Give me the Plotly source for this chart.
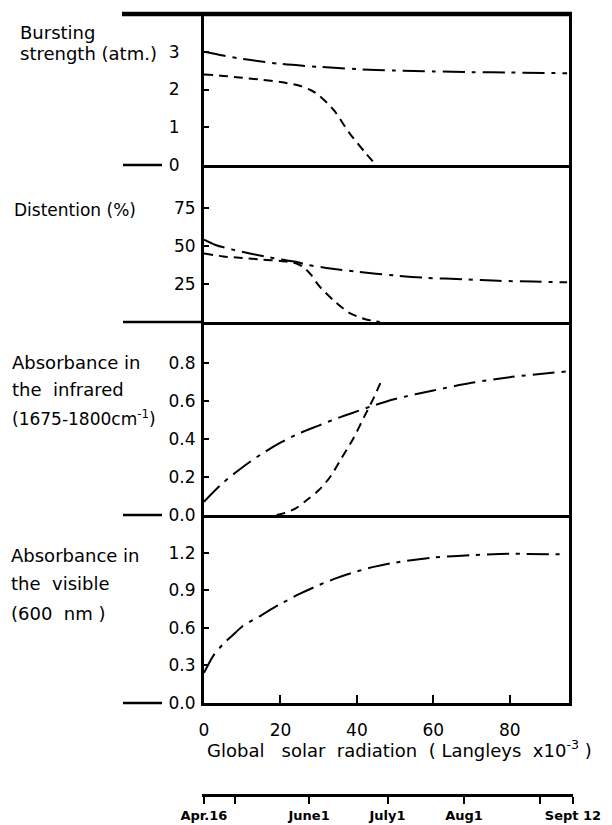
import plotly.graph_objects as go

# ---------------- data ----------------
# Global solar radiation (Langleys x 10^-3)
x_burst_dd = [0, 5, 10, 20, 30, 40, 50, 60, 70, 80, 95]
burst_dd = [3.0, 2.9, 2.81, 2.68, 2.6, 2.54, 2.5, 2.48, 2.46, 2.45, 2.43]
x_burst_d = [0, 5, 10, 15, 20, 25, 28, 30, 34, 38, 42, 45]
burst_d = [2.4, 2.36, 2.31, 2.26, 2.2, 2.1, 1.98, 1.85, 1.45, 0.85, 0.35, 0.0]

x_dist_dd = [0, 3, 7.5, 12, 16, 20, 24, 27, 32, 40, 50, 58, 68, 77, 86, 95]
dist_dd = [54, 50.5, 47.5, 45, 43, 41, 39.5, 37.5, 35.5, 33, 30.5, 29, 28, 27, 26.5, 26]
x_dist_d = [0, 5, 10, 15, 20, 24, 26, 28, 30, 34, 38, 42, 46]
dist_d = [45, 43, 42, 41, 40, 38.5, 36, 31, 24, 14, 6, 2, 0]

x_ir_dd = [0, 5, 10, 15, 20, 25, 30, 35, 40, 45, 50, 60, 70, 80, 95]
ir_dd = [0.07, 0.17, 0.25, 0.32, 0.38, 0.43, 0.47, 0.51, 0.545, 0.58, 0.61, 0.655, 0.695, 0.725, 0.755]
x_ir_d = [19, 21, 24, 27, 30, 33, 36, 39, 42, 44.5, 46.5]
ir_d = [0.0, 0.01, 0.035, 0.08, 0.13, 0.2, 0.3, 0.4, 0.52, 0.62, 0.71]

x_vis = [0, 2.5, 5, 7.5, 10, 15, 20, 25, 30, 35, 40, 45, 50, 60, 70, 80, 95]
vis = [0.24, 0.38, 0.47, 0.54, 0.61, 0.70, 0.79, 0.87, 0.94, 1.0, 1.05, 1.09, 1.12, 1.16, 1.18, 1.19, 1.185]

x_ticks = [0, 20, 40, 60, 80]
burst_ticks = [0, 1, 2, 3]
dist_ticks = [25, 50, 75]
ir_ticks = [0.0, 0.2, 0.4, 0.6, 0.8]
vis_ticks = [0.0, 0.3, 0.6, 0.9, 1.2]

# calendar dates placed on the solar-radiation scale
date_pos = [0, 8, 27.5, 48, 68, 88, 96.5]
date_labels = ["Apr.16", "", "June1", "July1", "Aug1", "", "Sept 12"]

# ---------------- figure ----------------
W, H = 612, 825
FONT = "DejaVu Sans"


def px_x(p):
    return p / W


def px_y(p):
    return 1 - p / H


DASHDOT = "22px,7px,4px,7px"
DASHED = "9px,6px"

fig = go.Figure()


def add(x, y, panel, dash):
    fig.add_trace(go.Scatter(
        x=x, y=y, mode="lines",
        line=dict(color="black", width=2, dash=dash, shape="spline", smoothing=0.8),
        xaxis="x" if panel == 1 else f"x{panel}", yaxis="y" if panel == 1 else f"y{panel}",
        showlegend=False, hoverinfo="skip"))


add(x_burst_dd, burst_dd, 1, DASHDOT)
add(x_burst_d, burst_d, 1, DASHED)
add(x_dist_dd, dist_dd, 2, DASHDOT)
add(x_dist_d, dist_d, 2, DASHED)
add(x_ir_dd, ir_dd, 3, DASHDOT)
add(x_ir_d, ir_d, 3, DASHED)
add(x_vis, vis, 4, DASHDOT)

# invisible carrier trace so the calendar axis gets drawn
fig.add_trace(go.Scatter(x=date_pos, y=[0] * len(date_pos), xaxis="x5", yaxis="y5",
                         mode="markers", marker=dict(opacity=0), showlegend=False,
                         hoverinfo="skip"))

xdom = [px_x(204), px_x(569)]
ydoms = {
    1: [px_y(165), px_y(14)],
    2: [px_y(322), px_y(165)],
    3: [px_y(515), px_y(322)],
    4: [px_y(703), px_y(515)],
}
yranges = {1: [0, 4.0], 2: [0, 103], 3: [0, 1.015], 4: [0, 1.5]}
yticks = {1: burst_ticks, 2: dist_ticks, 3: ir_ticks, 4: vis_ticks}
ytext = {
    1: [str(v) for v in burst_ticks],
    2: [str(v) for v in dist_ticks],
    3: [f"{v:.1f}" for v in ir_ticks],
    4: [f"{v:.1f}" for v in vis_ticks],
}
standoff = {1: 18, 2: 2, 3: 2, 4: 2}

layout = dict(
    width=W, height=H, autosize=False,
    margin=dict(l=0, r=0, t=0, b=0, autoexpand=False),
    paper_bgcolor="white", plot_bgcolor="white",
    font=dict(family=FONT, size=17, color="black"),
    showlegend=False,
)

for p in range(1, 5):
    xk = "xaxis" if p == 1 else f"xaxis{p}"
    yk = "yaxis" if p == 1 else f"yaxis{p}"
    xa = dict(
        domain=xdom, range=[0, 95.5], anchor="y" if p == 1 else f"y{p}",
        showgrid=False, zeroline=False, showline=True, linecolor="black",
        linewidth=3 if p == 4 else 2.5, mirror=False,
    )
    if p > 1:
        xa["matches"] = "x"
    if p == 4:
        xa.update(ticks="inside", ticklen=8, tickwidth=2, tickcolor="black",
                  tickvals=x_ticks, ticktext=[str(v) for v in x_ticks],
                  showticklabels=True, ticklabelstandoff=10)
    else:
        xa.update(ticks="", showticklabels=False)
    layout[xk] = xa
    layout[yk] = dict(
        domain=ydoms[p], range=yranges[p], anchor="x" if p == 1 else f"x{p}",
        showgrid=False, zeroline=False, showline=True, linecolor="black",
        linewidth=3, mirror=True,
        ticks="inside", ticklen=5, tickwidth=2, tickcolor="black",
        tickvals=yticks[p], ticktext=ytext[p], ticklabelstandoff=standoff[p],
    )

# calendar axis beneath
layout["xaxis5"] = dict(
    domain=[px_x(202), px_x(573)], range=[-0.5, 96.5], anchor="y5",
    showgrid=False, zeroline=False, showline=True, linecolor="black", linewidth=3,
    ticks="outside", ticklen=7, tickwidth=2, tickcolor="black",
    tickvals=date_pos, ticktext=[f"<b>{t}</b>" if t else "" for t in date_labels],
    tickfont=dict(family=FONT, size=13, color="black"), ticklabelstandoff=0,
)
layout["yaxis5"] = dict(domain=[px_y(794), px_y(780)], anchor="x5", visible=False, range=[0, 1])

fig.update_layout(**layout)

# frame: thick top border and left extensions of the zero lines
shapes = [dict(type="line", xref="paper", yref="paper", x0=px_x(122), x1=px_x(572),
               y0=px_y(14), y1=px_y(14), line=dict(color="black", width=4.5))]
for p, x1 in [(1, 162), (2, 204), (3, 162), (4, 162)]:
    shapes.append(dict(type="line", xref="paper", yref=("y" if p == 1 else f"y{p}") + " domain",
                       x0=px_x(123), x1=px_x(x1), y0=0, y1=0,
                       line=dict(color="black", width=2.5)))
fig.update_layout(shapes=shapes)

# y titles and x title
ann = []
titles = [
    ("Bursting", 18, 32, 18),
    ("strength (atm.)", 18, 54, 18),
    ("Distention (%)", 12, 210, 17),
    ("Absorbance in", 10, 363, 18),
    ("the  infrared", 10, 390, 18),
    ("(1675-1800cm<sup>-1</sup>)", 10, 418, 17),
    ("Absorbance in", 9, 555, 18),
    ("the  visible", 9, 583, 18),
    ("(600  nm )", 9, 613, 18),
]
for t, x, y, s in titles:
    ann.append(dict(text=t, xref="paper", yref="paper", x=px_x(x), y=px_y(y),
                    xanchor="left", yanchor="middle", showarrow=False,
                    font=dict(family=FONT, size=s, color="black")))
ann.append(dict(text="Global   solar  radiation  ( Langleys  x10<sup>-3</sup> )",
                xref="paper", yref="paper", x=px_x(205), y=px_y(749),
                xanchor="left", yanchor="middle", showarrow=False,
                font=dict(family=FONT, size=18, color="black")))
fig.update_layout(annotations=ann)

fig.write_html("out.html")
